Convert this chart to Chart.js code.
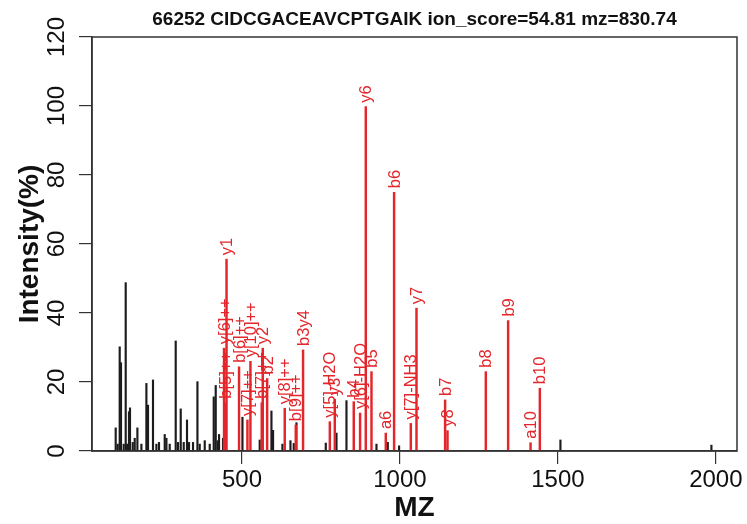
<!DOCTYPE html>
<html>
<head>
<meta charset="utf-8">
<script src="https://cdn.jsdelivr.net/npm/chart.js@4.4.1/dist/chart.umd.min.js"></script>
<style>
  html, body { margin: 0; padding: 0; background: #fff; }
  #wrap { width: 747px; height: 524px; }
</style>
</head>
<body>
<div id="wrap"><canvas id="spec" width="747" height="524"></canvas></div>
<script>
// spectrum 66252
const TITLE = "66252 CIDCGACEAVCPTGAIK ion_score=54.81 mz=830.74";

// unmatched peaks (black)
const blackMz = [100, 106.3, 112.7, 116.8, 125.3, 131.7, 136.4, 142.1, 145.3, 153.9, 160.2, 168.7,
  181.4, 197.2, 202.3, 218.1, 228.9, 237.1, 255.2, 260.6, 271, 290, 297.3, 305.9, 315.4,
  325.8, 332.1, 344.8, 358.8, 366, 381.9, 397.7, 410.4, 416.7, 423, 427.2, 439.8,
  501.3, 556, 593.1, 598.2, 627.9, 653.3, 663.7, 672.3, 765.1, 799, 830.6, 925.6,
  961.4, 997.2, 1508, 1986];
const blackInt = [6.7, 2, 30.2, 25.6, 2, 48.8, 2, 11.4, 12.5, 2.5, 3.7, 6.7,
  2, 19.6, 13.3, 20.6, 2, 2.5, 4.8, 3.7, 2, 31.9, 2.5, 12.2, 2.5,
  9, 2.5, 2.5, 20.1, 2, 3, 2, 15.7, 19, 3, 4.8, 3.7,
  9.8, 3.2, 11.6, 6, 2, 3, 2.2, 8.2, 2.3, 5.2, 14.6, 2,
  2.5, 1.5, 3.2, 1.7];

// matched fragment ions (red)
const ionLabels = ["y[6]++", "b[5]++", "y1", "b[6]++", "y[7]++", "y[10]++", "b[7]++", "y2", "b2",
  "y[8]++", "b[9]++", "b3y4", "y[5]-H2O", "y3", "b4", "y[6]-H2O", "y6", "b5", "a6", "b6",
  "y[7]-NH3", "y7", "b7", "y8", "b8", "b9", "a10", "b10"];
const ionMz = [443, 448.4, 450.9, 490.5, 517.1, 526.6, 562.4, 565.6, 579.5,
  635.2, 670.1, 693.2, 777.9, 793.6, 853.7, 873.7, 891.8, 909.8, 955.1, 981.4,
  1034.3, 1052.3, 1142.9, 1150.5, 1271.8, 1342.4, 1413.4, 1442.8];
const ionInt = [29.8, 14, 55.6, 24.4, 9, 26, 14, 29.8, 21,
  12.4, 7.5, 29.3, 8.5, 15, 14.3, 11, 99.8, 23, 5.2, 75,
  8, 41.4, 14.8, 5.9, 23, 37.8, 2.4, 18.2];

const xTicks = [500, 1000, 1500, 2000];
const yTicks = [0, 20, 40, 60, 80, 100, 120];

const RED = "#e3262b";
const INK = "#1c1c1c";
const FONT = '"Liberation Sans", Arial, Helvetica, sans-serif';

const pts = (xs, ys) => xs.map((v, i) => ({ x: v, y: ys[i] }));

// rotated ion names above each red peak
const peakLabels = {
  id: "peakLabels",
  afterDatasetsDraw(chart) {
    const { ctx, scales: { x, y } } = chart;
    ctx.save();
    ctx.font = "16.5px " + FONT;
    ctx.fillStyle = RED;
    ctx.textAlign = "left";
    ctx.textBaseline = "middle";
    ionLabels.forEach((lab, i) => {
      const px = x.getPixelForValue(ionMz[i]);
      const py = y.getPixelForValue(ionInt[i]);
      ctx.save();
      ctx.translate(px + 1, py - 4);
      ctx.rotate(-Math.PI / 2);
      ctx.fillText(lab, 0, 0);
      ctx.restore();
    });
    ctx.restore();
  }
};

// R-style box round the plot region, plus main title centred on it
const plotBox = {
  id: "plotBox",
  afterDraw(chart) {
    const a = chart.chartArea, ctx = chart.ctx;
    ctx.save();
    ctx.strokeStyle = "#333";
    ctx.lineWidth = 1.5;
    ctx.strokeRect(a.left, a.top, a.right - a.left, a.bottom - a.top);
    ctx.fillStyle = "#111";
    ctx.font = "bold 19px " + FONT;
    ctx.textAlign = "center";
    ctx.textBaseline = "middle";
    ctx.fillText(TITLE, (a.left + a.right) / 2, 20);
    ctx.restore();
  }
};

new Chart(document.getElementById("spec"), {
  type: "bar",
  data: {
    datasets: [
      { label: "matched", data: pts(ionMz, ionInt), backgroundColor: RED, barThickness: 1.8, grouped: false },
      { label: "spectrum", data: pts(blackMz, blackInt), backgroundColor: INK, barThickness: 1.5, grouped: false }
    ]
  },
  options: {
    responsive: false,
    animation: false,
    layout: { padding: { left: 0, right: 10, top: 37, bottom: 0 } },
    plugins: {
      legend: { display: false },
      tooltip: { enabled: false },
      title: { display: false }
    },
    scales: {
      x: {
        type: "linear",
        min: 25,
        max: 2067,
        offset: false,
        afterBuildTicks: s => { s.ticks = xTicks.map(v => ({ value: v })); },
        afterFit: s => { s.height = 73; },
        grid: { offset: false, drawOnChartArea: false, drawTicks: true, tickLength: 13, color: "#333", lineWidth: 1.2 },
        border: { display: true, color: "#333", width: 1.5 },
        ticks: { color: "#111", font: { family: FONT, size: 24 }, padding: 2, maxRotation: 0, autoSkip: false, callback: v => String(v) },
        title: { display: true, text: "MZ", color: "#111", font: { family: FONT, size: 28, weight: "bold", lineHeight: 1 }, padding: { top: 0, bottom: 2 } }
      },
      y: {
        min: 0,
        max: 120,
        afterBuildTicks: s => { s.ticks = yTicks.map(v => ({ value: v })); },
        afterFit: s => { s.width = 92; },
        grid: { drawOnChartArea: false, drawTicks: true, tickLength: 13, color: "#333", lineWidth: 1.2 },
        border: { display: true, color: "#333", width: 1.5 },
        ticks: { color: "#111", font: { family: FONT, size: 24 }, padding: 2, minRotation: 90, maxRotation: 90, crossAlign: "center" },
        title: { display: true, text: "Intensity(%)", color: "#111", font: { family: FONT, size: 28, weight: "bold", lineHeight: 1 }, padding: { top: 16, bottom: 0 } }
      }
    }
  },
  plugins: [peakLabels, plotBox]
});
</script>
</body>
</html>
